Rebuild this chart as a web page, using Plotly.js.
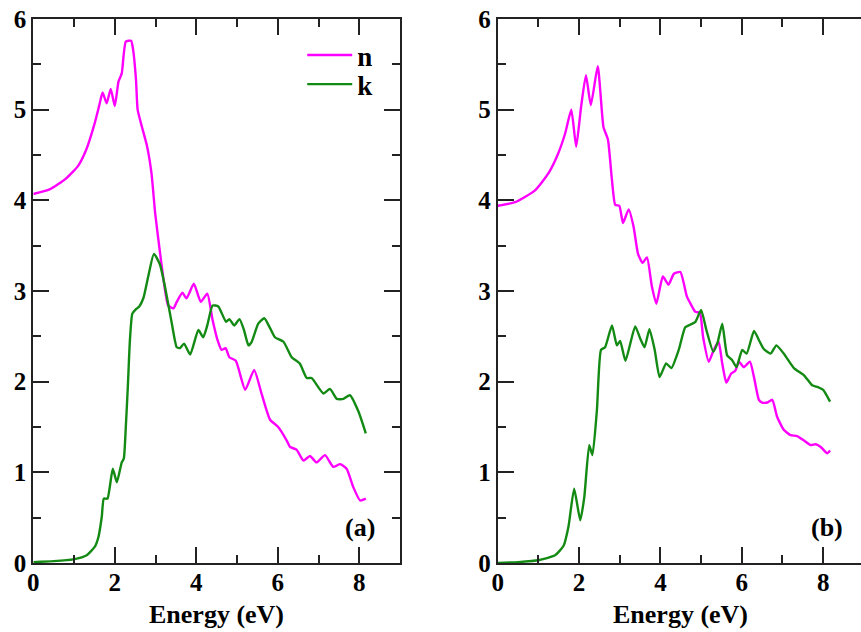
<!DOCTYPE html>
<html>
<head>
<meta charset="utf-8">
<script src="https://cdn.plot.ly/plotly-3.0.1.min.js"></script>
<style>html,body{margin:0;padding:0;background:#fff;}#chart{width:861px;height:632px;}</style>
</head>
<body>
<div id="chart"></div>
<script>
// Panel (a)
const energyNa = [0, 0.4, 0.8, 1.1, 1.3, 1.5, 1.62, 1.70, 1.80, 1.90, 2.0, 2.09, 2.17, 2.27, 2.40, 2.45, 2.52, 2.56, 2.66, 2.79, 2.9, 2.99, 3.11, 3.21, 3.31, 3.44, 3.52, 3.66, 3.76, 3.94, 4.11, 4.27, 4.40, 4.52, 4.62, 4.72, 4.81, 4.97, 5.2, 5.42, 5.60, 5.81, 6.01, 6.22, 6.30, 6.46, 6.63, 6.79, 6.95, 7.16, 7.36, 7.53, 7.69, 7.85, 8.02, 8.16];
const nA = [4.07, 4.12, 4.24, 4.38, 4.56, 4.84, 5.05, 5.19, 5.07, 5.23, 5.04, 5.31, 5.40, 5.75, 5.76, 5.66, 5.33, 5.0, 4.82, 4.6, 4.3, 3.86, 3.42, 3.08, 2.84, 2.81, 2.88, 2.98, 2.92, 3.08, 2.88, 2.97, 2.68, 2.46, 2.35, 2.37, 2.27, 2.23, 1.91, 2.13, 1.87, 1.58, 1.50, 1.35, 1.28, 1.25, 1.13, 1.18, 1.11, 1.19, 1.06, 1.09, 1.04, 0.84, 0.69, 0.71];
const energyKa = [0, 0.5, 0.98, 1.31, 1.51, 1.60, 1.68, 1.73, 1.82, 1.95, 2.05, 2.17, 2.22, 2.27, 2.32, 2.37, 2.43, 2.52, 2.6, 2.70, 2.82, 2.96, 3.11, 3.23, 3.40, 3.52, 3.60, 3.70, 3.85, 4.05, 4.17, 4.27, 4.40, 4.54, 4.73, 4.81, 4.93, 5.06, 5.17, 5.28, 5.36, 5.52, 5.67, 5.81, 5.93, 6.14, 6.34, 6.54, 6.71, 6.83, 7.12, 7.28, 7.45, 7.61, 7.77, 7.98, 8.16];
const kA = [0.01, 0.02, 0.04, 0.085, 0.18, 0.29, 0.51, 0.71, 0.71, 1.04, 0.89, 1.11, 1.15, 1.5, 1.95, 2.45, 2.75, 2.80, 2.83, 2.92, 3.16, 3.41, 3.29, 3.05, 2.64, 2.38, 2.37, 2.42, 2.30, 2.57, 2.49, 2.62, 2.84, 2.83, 2.66, 2.69, 2.62, 2.69, 2.57, 2.40, 2.44, 2.64, 2.70, 2.59, 2.49, 2.44, 2.27, 2.20, 2.04, 2.04, 1.87, 1.92, 1.81, 1.81, 1.85, 1.67, 1.43];

// Panel (b)
const energyNb = [0, 0.43, 0.92, 1.25, 1.49, 1.66, 1.81, 1.93, 2.05, 2.17, 2.29, 2.46, 2.60, 2.71, 2.81, 2.89, 2.99, 3.08, 3.22, 3.34, 3.45, 3.56, 3.67, 3.79, 3.90, 4.06, 4.20, 4.33, 4.49, 4.65, 4.74, 4.86, 4.97, 5.05, 5.19, 5.31, 5.43, 5.52, 5.62, 5.74, 5.84, 5.93, 6.05, 6.20, 6.30, 6.42, 6.50, 6.63, 6.75, 6.87, 7.03, 7.20, 7.36, 7.53, 7.69, 7.82, 7.94, 8.10, 8.17];
const nB = [3.94, 3.98, 4.11, 4.30, 4.52, 4.74, 5.0, 4.59, 5.03, 5.38, 5.05, 5.48, 4.81, 4.67, 4.22, 3.95, 3.94, 3.75, 3.90, 3.71, 3.41, 3.31, 3.37, 3.05, 2.86, 3.16, 3.07, 3.19, 3.21, 2.94, 2.86, 2.77, 2.76, 2.49, 2.22, 2.35, 2.44, 2.20, 1.99, 2.09, 2.12, 2.22, 2.16, 2.22, 2.05, 1.80, 1.77, 1.77, 1.80, 1.61, 1.47, 1.41, 1.40, 1.35, 1.30, 1.31, 1.28, 1.21, 1.24];
const energyKb = [0, 0.5, 1.0, 1.41, 1.62, 1.74, 1.88, 2.03, 2.13, 2.25, 2.33, 2.44, 2.54, 2.64, 2.81, 2.93, 3.01, 3.14, 3.38, 3.50, 3.61, 3.73, 3.86, 3.98, 4.14, 4.27, 4.45, 4.61, 4.74, 4.86, 5.0, 5.13, 5.30, 5.41, 5.52, 5.64, 5.76, 5.87, 6.01, 6.12, 6.30, 6.42, 6.54, 6.71, 6.85, 7.03, 7.28, 7.53, 7.73, 7.87, 8.0, 8.17];
const kB = [0, 0.01, 0.03, 0.085, 0.19, 0.40, 0.82, 0.47, 0.73, 1.30, 1.19, 1.69, 2.35, 2.38, 2.62, 2.40, 2.45, 2.23, 2.61, 2.48, 2.38, 2.58, 2.35, 2.05, 2.20, 2.15, 2.35, 2.60, 2.63, 2.66, 2.79, 2.57, 2.33, 2.44, 2.64, 2.29, 2.24, 2.16, 2.35, 2.31, 2.56, 2.46, 2.36, 2.31, 2.40, 2.31, 2.15, 2.07, 1.96, 1.94, 1.91, 1.78];

const seriesNames = ['n', 'k'];
const panelLabels = ['(a)', '(b)'];
const xTitle = 'Energy (eV)';

const MAG = '#ff00ff';
const GRN = '#138a13';
const FONT = 'Liberation Serif, Times New Roman, serif';
const lineStyle = c => ({color: c, width: 2.4, shape: 'spline', smoothing: 0.5});

const traces = [
  {x: energyNa, y: nA, name: seriesNames[0], mode: 'lines', line: lineStyle(MAG), xaxis: 'x', yaxis: 'y', legend: 'legend'},
  {x: energyKa, y: kA, name: seriesNames[1], mode: 'lines', line: lineStyle(GRN), xaxis: 'x', yaxis: 'y', legend: 'legend2'},
  {x: energyNb, y: nB, name: seriesNames[0], mode: 'lines', line: lineStyle(MAG), xaxis: 'x2', yaxis: 'y2', showlegend: false},
  {x: energyKb, y: kB, name: seriesNames[1], mode: 'lines', line: lineStyle(GRN), xaxis: 'x2', yaxis: 'y2', showlegend: false}
];

const tickFont = {family: FONT, size: 25, color: '#000', weight: 'bold'};
const common = {
  ticks: 'inside', ticklen: 16, tickwidth: 2, tickcolor: '#222',
  showline: true, linecolor: '#222', linewidth: 2,
  showgrid: false, zeroline: false, tickfont: tickFont,
  minor: {ticks: 'inside', ticklen: 8, tickwidth: 2, tickcolor: '#222', showgrid: false}
};
const xCommon = Object.assign({}, common, {
  dtick: 2, tick0: 0, ticklabelstandoff: -4, minor: Object.assign({}, common.minor, {dtick: 1})
});
const yCommon = Object.assign({}, common, {
  range: [0, 6], dtick: 1, tick0: 0, minor: Object.assign({}, common.minor, {dtick: 0.5})
});
const legendBase = {xanchor: 'left', yanchor: 'top', bgcolor: 'rgba(0,0,0,0)', itemwidth: 45,
  font: {family: FONT, size: 27, color: '#000', weight: 'bold'}};
const titleFont = {family: FONT, size: 26, color: '#000'};

const layout = {
  width: 861, height: 632,
  margin: {l: 0, r: 0, t: 0, b: 0},
  paper_bgcolor: '#fff', plot_bgcolor: '#fff',
  showlegend: true,
  legend: Object.assign({}, legendBase, {x: 0.351, y: 0.951}),
  legend2: Object.assign({}, legendBase, {x: 0.351, y: 0.905}),
  xaxis: Object.assign({}, xCommon, {domain: [0.0387, 0.4646], range: [0, 9], anchor: 'y', mirror: 'ticks'}),
  yaxis: Object.assign({}, yCommon, {domain: [0.1092, 0.9699], anchor: 'x', mirror: 'ticks'}),
  xaxis2: Object.assign({}, xCommon, {domain: [0.578, 1], range: [0, 8.93], anchor: 'y2', mirror: 'ticks'}),
  yaxis2: Object.assign({}, yCommon, {domain: [0.1092, 0.9699], anchor: 'x2', mirror: false}),
  yaxis3: Object.assign({}, yCommon, {overlaying: 'y2', side: 'right', anchor: 'x2', showline: false, showticklabels: false}),
  annotations: [
    {xref: 'x', yref: 'paper', x: 4.5, y: 0.027, yanchor: 'middle', text: '<b>' + xTitle + '</b>', showarrow: false, font: titleFont},
    {xref: 'x2', yref: 'paper', x: 4.5, y: 0.027, yanchor: 'middle', text: '<b>' + xTitle + '</b>', showarrow: false, font: titleFont},
    {xref: 'x', yref: 'y', x: 8.02, y: 0.39, text: '<b>' + panelLabels[0] + '</b>', showarrow: false,
     font: {family: FONT, size: 26, color: '#000'}},
    {xref: 'x2', yref: 'y2', x: 8.09, y: 0.39, text: '<b>' + panelLabels[1] + '</b>', showarrow: false,
     font: {family: FONT, size: 26, color: '#000'}}
  ]
};

Plotly.newPlot('chart', traces, layout, {staticPlot: true, displayModeBar: false});
</script>
</body>
</html>
